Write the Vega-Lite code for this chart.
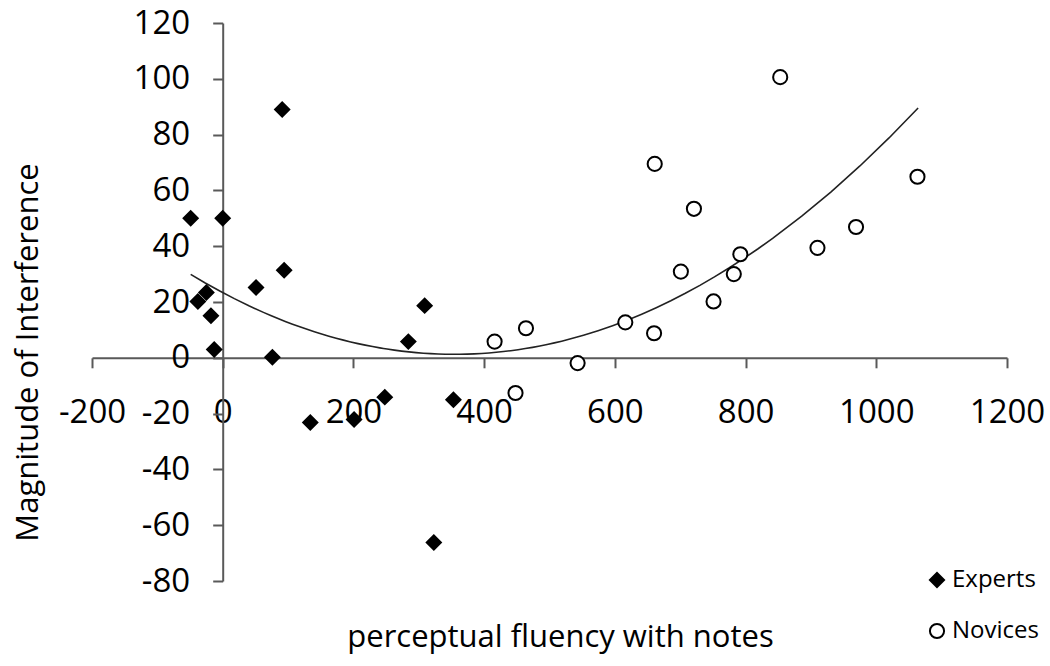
{
  "$schema": "https://vega.github.io/schema/vega-lite/v6.json",
  "autosize": "none",
  "width": 915,
  "height": 558,
  "padding": {"left": 92, "top": 23, "right": 43, "bottom": 85},
  "background": "white",
  "config": {
    "view": {"stroke": null},
    "font": "Open Sans",
    "axis": {"labelFont": "Open Sans", "titleFont": "Open Sans", "labelColor": "black", "titleColor": "black", "titleFontWeight": "normal", "grid": false, "domainColor": "#595959", "tickColor": "#595959", "domainWidth": 2, "tickWidth": 2},
    "legend": {"orient": "none", "legendX": 833, "legendY": 545, "labelFontSize": 24, "labelFont": "Open Sans", "labelColor": "black", "symbolSize": 200, "symbolStrokeWidth": 2, "labelOffset": 3, "rowPadding": 27, "padding": 0, "symbolOpacity": 1}
  },
  "data": {
    "values": [
      {"x": -49, "y": 50, "group": "Experts"},
      {"x": 0, "y": 50, "group": "Experts"},
      {"x": 91, "y": 89, "group": "Experts"},
      {"x": 94, "y": 31.4, "group": "Experts"},
      {"x": 51, "y": 25.2, "group": "Experts"},
      {"x": -25, "y": 23.4, "group": "Experts"},
      {"x": -38, "y": 20.2, "group": "Experts"},
      {"x": -18, "y": 15.1, "group": "Experts"},
      {"x": -13, "y": 3, "group": "Experts"},
      {"x": 76, "y": 0.2, "group": "Experts"},
      {"x": 284, "y": 5.8, "group": "Experts"},
      {"x": 309, "y": 18.7, "group": "Experts"},
      {"x": 134, "y": -23.2, "group": "Experts"},
      {"x": 201, "y": -22.1, "group": "Experts"},
      {"x": 248, "y": -14.1, "group": "Experts"},
      {"x": 353, "y": -15, "group": "Experts"},
      {"x": 323, "y": -66.2, "group": "Experts"},
      {"x": 416, "y": 5.8, "group": "Novices"},
      {"x": 464, "y": 10.6, "group": "Novices"},
      {"x": 543, "y": -1.9, "group": "Novices"},
      {"x": 448, "y": -12.6, "group": "Novices"},
      {"x": 616, "y": 12.7, "group": "Novices"},
      {"x": 660, "y": 8.8, "group": "Novices"},
      {"x": 661, "y": 69.5, "group": "Novices"},
      {"x": 701, "y": 30.9, "group": "Novices"},
      {"x": 721, "y": 53.4, "group": "Novices"},
      {"x": 751, "y": 20.2, "group": "Novices"},
      {"x": 782, "y": 30, "group": "Novices"},
      {"x": 792, "y": 37.1, "group": "Novices"},
      {"x": 853, "y": 100.6, "group": "Novices"},
      {"x": 910, "y": 39.4, "group": "Novices"},
      {"x": 969, "y": 46.9, "group": "Novices"},
      {"x": 1063, "y": 64.9, "group": "Novices"}
    ]
  },
  "layer": [
    {
      "transform": [{"regression": "y", "on": "x", "method": "poly", "order": 2, "extent": [-49, 1064]}],
      "mark": {"type": "line", "color": "#222222", "strokeWidth": 1.6, "clip": false},
      "encoding": {
        "x": {"field": "x", "type": "quantitative", "scale": {"domain": [-200, 1200], "nice": false, "zero": false},
          "axis": {"orient": "bottom", "offset": -223.2, "values": [-200, 0, 200, 400, 600, 800, 1000, 1200], "labelExpr": "'' + datum.value", "labelFontSize": 33, "tickSize": 10, "labelPadding": 29, "labelFlush": false, "labelOverlap": false,
            "title": "perceptual fluency with notes", "titleFontSize": 31, "titleBaseline": "alphabetic", "titleY": 289, "titleX": 468}},
        "y": {"field": "y", "type": "quantitative", "scale": {"domain": [-80, 120], "nice": false, "zero": false},
          "axis": {"orient": "left", "offset": -130.7, "values": [-80, -60, -40, -20, 0, 20, 40, 60, 80, 100, 120], "labelExpr": "'' + datum.value", "labelFontSize": 33, "tickSize": 10, "labelPadding": 23, "labelFlush": false, "labelOverlap": false,
            "title": "Magnitude of Interference", "titleFontSize": 31, "titleAngle": 270, "titleAlign": "center", "titleBaseline": "middle", "titleX": -194, "titleY": 329}}
      }
    },
    {
      "mark": {"type": "point", "filled": false, "opacity": 1, "strokeWidth": 2, "size": 200, "clip": false},
      "encoding": {
        "x": {"field": "x", "type": "quantitative"},
        "y": {"field": "y", "type": "quantitative"},
        "shape": {"field": "group", "type": "nominal", "scale": {"domain": ["Experts", "Novices"], "range": ["diamond", "circle"]}, "legend": {"title": null, "symbolSize": 200}},
        "color": {"field": "group", "type": "nominal", "scale": {"domain": ["Experts", "Novices"], "range": ["black", "black"]}, "legend": {"title": null, "symbolSize": 200}},
        "fill": {"field": "group", "type": "nominal", "scale": {"domain": ["Experts", "Novices"], "range": ["black", "white"]}, "legend": {"title": null, "symbolSize": 200}}
      }
    }
  ]
}
